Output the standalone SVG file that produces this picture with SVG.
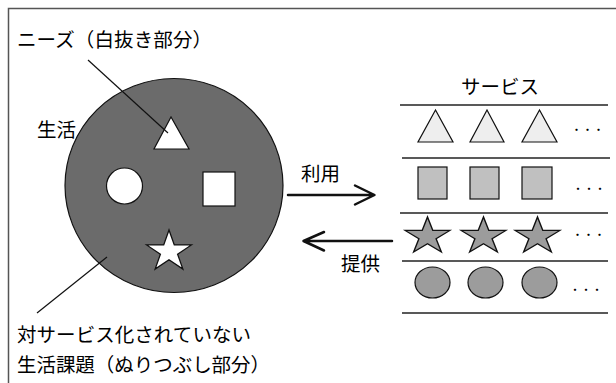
<svg xmlns="http://www.w3.org/2000/svg" width="616" height="383" viewBox="0 0 616 383">
<style>
text{font-family:"Noto Sans CJK JP","Noto Sans CJK SC",sans-serif;font-size:19.5px;fill:#000}
.dots{font-size:11px}
.row{stroke:#222;stroke-width:1.5;fill:none}
.shape{stroke:#111;stroke-width:1.2}
.tri{fill:#eeeeee}
.sq{fill:#c0c0c0}
.st{fill:#9c9c9c}
.ci{fill:#9c9c9c}
.lead{stroke:#111;stroke-width:1.2;fill:none}
.arrow{stroke:#111;stroke-width:2.5;fill:none;stroke-linecap:round;stroke-linejoin:round}
</style>
<defs>
<path id="star" d="M0,-20 L4.49,-6.18 L19.02,-6.18 L7.27,2.36 L11.76,16.18 L0,7.64 L-11.76,16.18 L-7.27,2.36 L-19.02,-6.18 L-4.49,-6.18 Z"/>
</defs>
<rect x="0" y="0" width="616" height="383" fill="#fff"/>
<rect x="8.5" y="8.5" width="700" height="500" fill="none" stroke="#555" stroke-width="1.5"/>

<g id="life">
<ellipse cx="174" cy="185.5" rx="109" ry="107" fill="#6b6b6b" stroke="#111" stroke-width="1.2"/>
<polygon class="shape" fill="#fff" points="171,117 154,149 189,149"/>
<circle class="shape" fill="#fff" cx="124.5" cy="186" r="18"/>
<rect class="shape" fill="#fff" x="203" y="172" width="32" height="34"/>
<use href="#star" class="shape" fill="#fff" transform="translate(169,251.6) scale(1.18,1.08)" vector-effect="non-scaling-stroke" style="stroke-width:1.1"/>
</g>

<g id="labels">
<text x="17" y="47" textLength="195" lengthAdjust="spacing">ニーズ（白抜き部分）</text>
<text x="37" y="137" textLength="39" lengthAdjust="spacing">生活</text>
<text x="17" y="342" textLength="234" lengthAdjust="spacing">対サービス化されていない</text>
<text x="17" y="372" textLength="253" lengthAdjust="spacing">生活課題（ぬりつぶし部分）</text>
</g>

<g id="services">
<text x="461" y="94" textLength="78" lengthAdjust="spacing">サービス</text>
<line class="row" x1="400" y1="105" x2="608" y2="105"/>
<line class="row" x1="402" y1="158" x2="610" y2="158"/>
<line class="row" x1="400" y1="213" x2="608" y2="213"/>
<line class="row" x1="402" y1="261" x2="608" y2="261"/>
<line class="row" x1="402" y1="313" x2="608" y2="313"/>
<polygon class="shape tri" points="435.5,110 418,142 453,142"/>
<polygon class="shape tri" points="487,110 470,142 504,142"/>
<polygon class="shape tri" points="539.5,110 522,142 557,142"/>
<text class="dots" x="571" y="134">・・・</text>
<rect class="shape sq" x="418" y="167" width="29" height="32"/>
<rect class="shape sq" x="470" y="167" width="29" height="32"/>
<rect class="shape sq" x="522" y="167" width="30" height="32"/>
<text class="dots" x="572.5" y="193">・・・</text>
<use href="#star" class="shape st" transform="translate(427.5,236.4) scale(1.18,0.97)" vector-effect="non-scaling-stroke"/>
<use href="#star" class="shape st" transform="translate(483.5,236.4) scale(1.18,0.97)" vector-effect="non-scaling-stroke"/>
<use href="#star" class="shape st" transform="translate(537.5,236.4) scale(1.18,0.97)" vector-effect="non-scaling-stroke"/>
<text class="dots" x="572" y="239">・・・</text>
<ellipse class="shape ci" cx="432.5" cy="282.5" rx="17.5" ry="15.5"/>
<ellipse class="shape ci" cx="485.5" cy="282.5" rx="17.5" ry="15.5"/>
<ellipse class="shape ci" cx="539.5" cy="282.5" rx="17.5" ry="15.5"/>
<text class="dots" x="569.5" y="294">・・・</text>
</g>

<g id="connectors">
<line class="lead" x1="88" y1="60" x2="168" y2="133"/>
<line class="lead" x1="37" y1="313" x2="107" y2="257"/>
<path class="arrow" d="M288,195 H374 M355,185.5 L374.5,195 L355,204.5"/>
<path class="arrow" d="M392,241 H304 M324,232 L303.5,241 L324,250.5"/>
<text x="301" y="181" textLength="39" lengthAdjust="spacing">利用</text>
<text x="341" y="271" textLength="39" lengthAdjust="spacing">提供</text>
</g>
</svg>
